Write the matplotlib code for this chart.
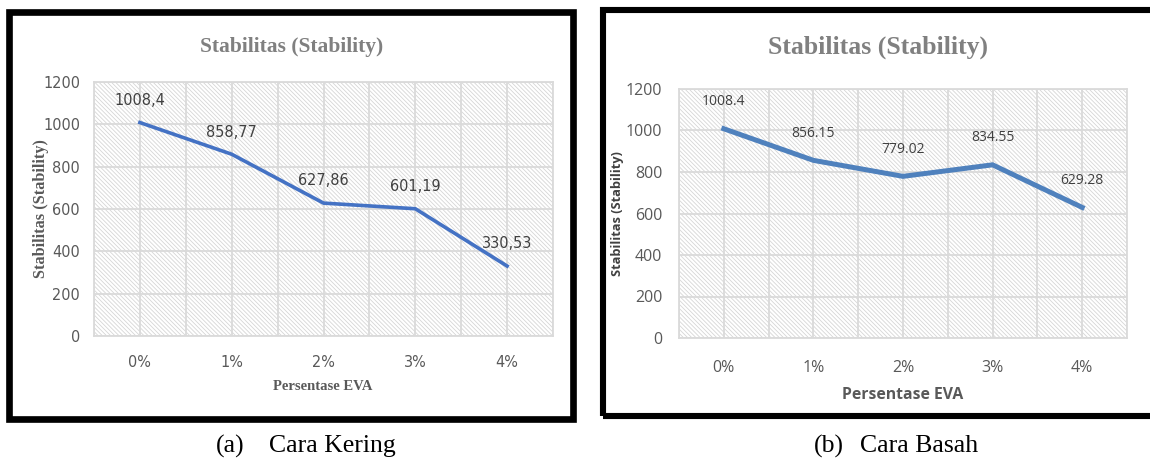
import matplotlib
matplotlib.use("Agg")
import matplotlib.pyplot as plt
from matplotlib import font_manager as fm
from matplotlib.patches import Rectangle
import numpy as np

# data
categories = ["0%", "1%", "2%", "3%", "4%"]
kering = [1008.4, 858.77, 627.86, 601.19, 330.53]
basah = [1008.4, 856.15, 779.02, 834.55, 629.28]
kering_labels = ["1008,4", "858,77", "627,86", "601,19", "330,53"]
basah_labels = ["1008.4", "856.15", "779.02", "834.55", "629.28"]
yticks = [0, 200, 400, 600, 800, 1000, 1200]

W, H = 1150, 459
plt.rcParams["hatch.linewidth"] = 0.6

fig = plt.figure(figsize=(W / 100, H / 100), dpi=100)
fig.patch.set_facecolor("white")


def narrow_font(size):
    # a condensed sans if one is installed, else plain DejaVu Sans a bit smaller
    for f in fm.fontManager.ttflist:
        name = f.name.lower() + " " + f.fname.lower()
        if ("condensed" in name or "narrow" in name or f.stretch == "condensed") \
                and "sans" in name and f.weight in (400, "normal") \
                and f.style == "normal" and "oblique" not in name:
            return fm.FontProperties(fname=f.fname, size=size)
    return fm.FontProperties(family="DejaVu Sans", size=size * 0.78)


def px(x, y):
    # pixel position (from top-left) -> figure fraction
    return x / W, 1 - y / H


def panel(rect, values, labels, line_color, line_w, label_off,
          tick_fp, lab_fp, tick_pad_y, tick_pad_x):
    ax = fig.add_axes(rect)
    x = np.arange(len(values))
    ax.set_xlim(-0.5, len(values) - 0.5)
    ax.set_ylim(0, 1200)

    # hatched plot background
    ax.add_patch(Rectangle((0, 0), 1, 1, transform=ax.transAxes, fill=False,
                           hatch="\\" * 8, edgecolor="#d6d6d6", linewidth=0,
                           zorder=0.1))

    ax.set_xticks(x)
    ax.set_xticklabels(categories)
    ax.set_xticks(np.arange(-0.5, len(values), 0.5), minor=True)
    ax.set_yticks(yticks)
    ax.grid(True, which="both", axis="x", color="#dadada", lw=1.3)
    ax.grid(True, which="major", axis="y", color="#dadada", lw=1.3)
    ax.set_axisbelow(True)
    ax.tick_params(which="both", length=0)
    ax.tick_params(axis="y", pad=tick_pad_y)
    ax.tick_params(axis="x", pad=tick_pad_x)
    for t in ax.get_xticklabels() + ax.get_yticklabels():
        t.set_fontproperties(tick_fp)
        t.set_color("#595959")
    for s in ax.spines.values():
        s.set_color("#dadada")
        s.set_linewidth(1.3)

    ax.plot(x, values, color=line_color, lw=line_w, solid_joinstyle="miter",
            zorder=3)
    for xi, v, lab in zip(x, values, labels):
        ax.annotate(lab, (xi, v), xytext=(0, label_off), textcoords="offset points",
                    ha="center", va="center", fontproperties=lab_fp,
                    color="#404040", zorder=4)
    return ax


serif = ["Liberation Serif", "DejaVu Serif"]
sans = ["Open Sans", "DejaVu Sans"]

# (a) Cara Kering
nf = narrow_font(11.6)
panel([94 / W, 1 - 336 / H, 459 / W, 254 / H], kering, kering_labels,
      "#4472c4", 2.6, 16, nf, nf, 10, 14)
fig.text(*px(292, 47), "Stabilitas (Stability)", ha="center", va="center",
         family=serif, weight="bold", fontsize=15.5, color="#808080")
fig.text(*px(323, 386), "Persentase EVA", ha="center", va="center",
         family=serif, weight="bold", fontsize=10.5, color="#595959")
fig.text(*px(41, 209), "Stabilitas (Stability)", ha="center", va="center",
         rotation=90, family=serif, weight="bold", fontsize=11.7,
         color="#595959")

# (b) Cara Basah
tick_b = fm.FontProperties(family=sans, size=11.5)
lab_b = fm.FontProperties(family=sans, size=10)
panel([679 / W, 1 - 338 / H, 448 / W, 249 / H], basah, basah_labels,
      "#4f81bd", 3.6, 19.5, tick_b, lab_b, 12, 16)
fig.text(*px(878, 47), "Stabilitas (Stability)", ha="center", va="center",
         family=serif, weight="bold", fontsize=18.5, color="#808080")
fig.text(*px(903, 395), "Persentase EVA", ha="center", va="center",
         family=sans, weight="bold", fontsize=11.3, color="#595959")
fig.text(*px(617, 214), "Stabilitas (Stability)", ha="center", va="center",
         rotation=90, family=sans, weight="bold", fontsize=9.3,
         color="#404040")

# black frames around both charts
for (x0, y0, x1, y1, lw) in [(9, 11.5, 573, 418.5, 4.8),
                             (602.5, 10, 1160, 415.5, 4.4)]:
    fig.patches.append(Rectangle(px(x0, y1), (x1 - x0) / W, (y1 - y0) / H,
                                 transform=fig.transFigure, fill=False,
                                 edgecolor="black", lw=lw, joinstyle="miter",
                                 figure=fig))

# captions
for (xa, xb, tag, name) in [(230.5, 269, "(a)", "Cara Kering"),
                            (829, 860, "(b)", "Cara Basah")]:
    fig.text(*px(xa, 446), tag, ha="center", va="center", family=serif,
             fontsize=18.5, color="black")
    fig.text(*px(xb, 446), name, ha="left", va="center", family=serif,
             fontsize=18.5, color="black")

fig.savefig("out.png", dpi=100)
